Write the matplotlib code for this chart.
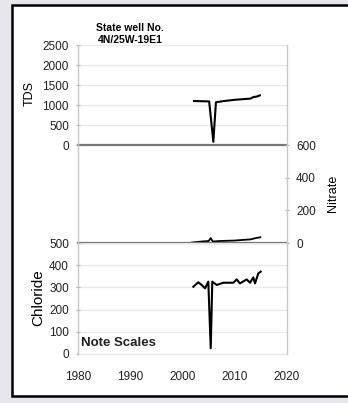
import matplotlib
matplotlib.use("Agg")
import matplotlib.pyplot as plt
from matplotlib.patches import Rectangle

plt.rcParams['font.family'] = ['Liberation Sans', 'DejaVu Sans']

# Water-quality record for state well 4N/25W-19E1
tds_year = [2002.2, 2003.5, 2005.1, 2005.9, 2006.4, 2008.0, 2010.0, 2012.0, 2013.0, 2013.6, 2014.2, 2014.8]
tds_val = [1100, 1095, 1090, 80, 1070, 1100, 1130, 1150, 1160, 1200, 1210, 1240]

nitrate_year = [2001.8, 2003.0, 2004.0, 2005.0, 2005.4, 2005.8, 2007.0, 2010.0, 2012.0, 2013.0, 2014.0, 2014.9]
nitrate_val = [3, 7, 10, 12, 30, 9, 12, 15, 20, 22, 30, 35]

chloride_year = [2002.07, 2003.02, 2003.67, 2004.31, 2004.94, 2005.40, 2005.70, 2006.55, 2007.81,
                 2009.72, 2010.37, 2011.00, 2012.29, 2012.92, 2013.55, 2013.88, 2014.51, 2014.97]
chloride_val = [303, 323, 311, 296, 326, 26, 326, 311, 321, 321, 336, 318, 336, 321, 345, 318, 363, 371]

year_ticks = [1980, 1990, 2000, 2010, 2020]
tds_ticks = [0, 500, 1000, 1500, 2000, 2500]
nitrate_ticks = [0, 200, 400, 600]
chloride_ticks = [0, 100, 200, 300, 400, 500]

W, H = 348, 403
fig = plt.figure(figsize=(W / 100, H / 100), dpi=100, facecolor='#e6e6ec')

# white sheet with black border
fig.patches.append(Rectangle((12 / W, 1 - 396 / H), (W + 5 - 12) / W, (396 - 5) / H,
                             transform=fig.transFigure, facecolor='white',
                             edgecolor='black', linewidth=1.8, zorder=-10))

left = 78 / W
width = (287 - 78) / W


def panel(top, bottom):
    return fig.add_axes([left, 1 - bottom / H, width, (bottom - top) / H])


ax_tds = panel(45, 145)
ax_no3 = panel(145, 243)
ax_cl = panel(243, 354)

grid_color = '#e8e8e8'
spine_color = '#c8c8c8'
for ax in (ax_tds, ax_no3, ax_cl):
    ax.set_xlim(1980, 2020)
    ax.set_facecolor('none')
    for s in ax.spines.values():
        s.set_color(spine_color)
        s.set_linewidth(1.0)
    ax.spines['top'].set_visible(False)
    ax.spines['bottom'].set_visible(False)
    ax.tick_params(axis='y', length=3, width=0.8, color='#b0b0b0', direction='inout',
                   labelsize=8.5, labelcolor='#222222')
    ax.tick_params(axis='x', length=0, labelsize=8.5, labelcolor='#222222')
    ax.set_xticks(year_ticks)

# TDS panel
ax_tds.plot(tds_year, tds_val, color='black', lw=1.5)
ax_tds.set_ylim(0, 2500)
ax_tds.set_yticks(tds_ticks)
ax_tds.yaxis.grid(True, color=grid_color, lw=0.9)
ax_tds.tick_params(axis='x', labelbottom=False)
ax_tds.tick_params(axis='y', pad=5)
ax_tds.axhline(0, color='#777777', lw=1.6, clip_on=False)

# Nitrate panel (right axis)
ax_no3.plot(nitrate_year, nitrate_val, color='black', lw=1.3)
ax_no3.set_ylim(0, 600)
ax_no3.set_yticks(nitrate_ticks)
ax_no3.yaxis.tick_right()
ax_no3.tick_params(axis='x', labelbottom=False)
ax_no3.tick_params(axis='y', pad=5)
ax_no3.axhline(0, color='#777777', lw=1.6, clip_on=False)

# Chloride panel
ax_cl.plot(chloride_year, chloride_val, color='black', lw=1.5)
ax_cl.set_ylim(0, 500)
ax_cl.set_yticks(chloride_ticks)
ax_cl.yaxis.grid(True, color=grid_color, lw=0.9)
ax_cl.tick_params(axis='y', pad=5)
ax_cl.tick_params(axis='x', pad=12)
ax_cl.axhline(0, color='#e8e8e8', lw=1.0, clip_on=False)

# labels
fig.text(30 / W, 1 - 94 / H, 'TDS', rotation=90, ha='center', va='center', fontsize=9)
fig.text(38 / W, 1 - 298 / H, 'Chloride', rotation=90, ha='center', va='center', fontsize=11)
fig.text(333 / W, 1 - 193 / H, 'Nitrate', rotation=90, ha='center', va='center', fontsize=9)
fig.text(130 / W, 1 - 34 / H, 'State well No.\n4N/25W-19E1', ha='center', va='center',
         fontsize=7.5, fontweight='bold', linespacing=1.15)
fig.text(81 / W, 1 - 343 / H, 'Note Scales', ha='left', va='center', fontsize=9.5,
         fontweight='bold', color='#222222')

fig.savefig('out.png', dpi=100, facecolor=fig.get_facecolor())
